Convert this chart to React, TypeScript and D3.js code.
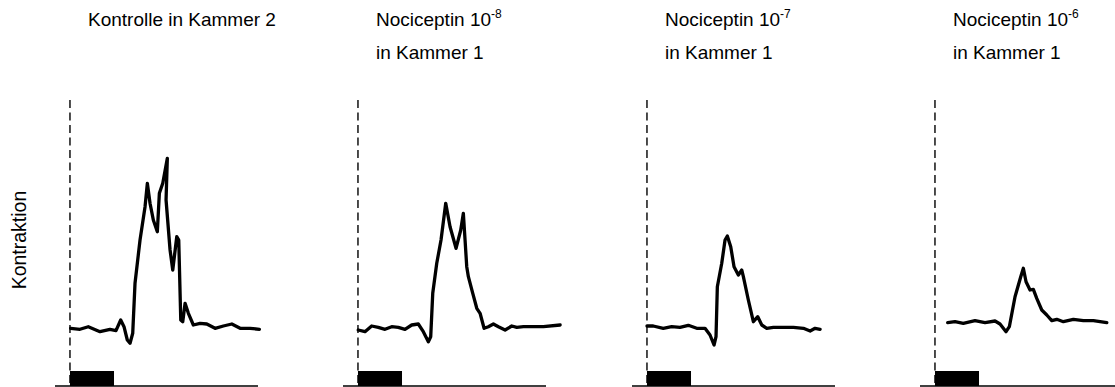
import React from "react";
import * as d3 from "d3";

// time (s) relative to stimulus onset, contraction (arbitrary units)
const control: [number, number][] = [
  [0.16, 28.85], [2.27, 28.35], [4.16, 29.65], [6.82, 27.15], [9.09, 28.35], [10.45, 27.65],
  [11.52, 33], [12.27, 29.65], [13.02, 23], [13.64, 21.35], [14.25, 26.35], [14.77, 51.35],
  [15.91, 73], [17.05, 89.65], [17.57, 101.35], [18.18, 91.35], [18.93, 83], [19.84, 77.15],
  [20.3, 96.35], [21.07, 101.35], [22.11, 113.85], [21.82, 93], [22.73, 68], [23.34, 58],
  [24.25, 74.65], [24.7, 73], [25.16, 33], [25.61, 32.15], [26.14, 41.35], [26.89, 36.35],
  [28.02, 30.5], [29.55, 31.35], [31.07, 31], [32.95, 28.85], [34.84, 30], [36.75, 31],
  [38.64, 28.85], [40.91, 28.85], [43.02, 28.35],
];
const noci8: [number, number][] = [
  [0.07, 28], [1.59, 27.15], [3.11, 30], [4.61, 29.35], [6.14, 28.35], [7.66, 29.65],
  [9.16, 29.35], [10.68, 28.35], [12.2, 30.5], [13.7, 31], [14.84, 27.15], [15.98, 22.15],
  [16.52, 24.65], [16.98, 46.35], [17.89, 61.35], [18.86, 73], [19.93, 91.35], [20.91, 79.65],
  [22.27, 68.85], [23.34, 78], [23.93, 86.35], [24.32, 73], [24.7, 59.65], [25.07, 54.65],
  [26.07, 46.35], [26.98, 38.85], [27.73, 36.35], [28.64, 28.85], [29.61, 29.65], [30.75, 31],
  [31.89, 29.65], [33.41, 28], [34.93, 30], [36.07, 29.35], [37.57, 29.65], [39.84, 29.65],
  [42.11, 29.65], [45.91, 30.5],
];
const noci7: [number, number][] = [
  [0, 30], [1.43, 30], [3.7, 28.85], [5.61, 29.65], [7.5, 29.35], [9.39, 30.35], [11.3, 28.85],
  [13.18, 28.85], [14.32, 25.5], [15.23, 20.5], [15.68, 24.65], [15.98, 49.65], [16.98, 61.35],
  [17.73, 73], [18.25, 75], [19.02, 69.65], [19.77, 59.65], [20.75, 55.5], [21.52, 58],
  [21.89, 54.65], [23.02, 43], [24.16, 32.15], [25.16, 34.65], [26.07, 30.5], [27.2, 28.85],
  [28.7, 29.35], [30.98, 29.35], [33.25, 29.35], [35.52, 28.85], [37.05, 27.5], [38.18, 28.85],
  [39.32, 28.35],
];
const noci6: [number, number][] = [
  [2.89, 31.65], [4.55, 32.15], [6.43, 31.35], [9.09, 32.65], [11.36, 31.65], [13.64, 32.5],
  [14.77, 31], [16.14, 27.15], [16.89, 29.65], [18.18, 44.65], [19.48, 54.65], [20.07, 58.85],
  [20.68, 52.15], [21.59, 48], [22.34, 48.35], [23.11, 43.85], [24.25, 38], [25.39, 35.5],
  [26.52, 32.65], [27.66, 33.35], [29.16, 32.15], [31.43, 33.35], [33.7, 32.65], [35.98, 32.65],
  [37.5, 32.15], [39.02, 31.65],
];

const titleLine1 = ["Kontrolle in Kammer 2", "Nociceptin 10", "Nociceptin 10", "Nociceptin 10"];
const titleSup = ["", "-8", "-7", "-6"];
const titleLine2 = ["", "in Kammer 1", "in Kammer 1", "in Kammer 1"];
const series = [control, noci8, noci7, noci6];
const stimulus: [number, number] = [0, 10];
const timeDomain: [number, number] = [-3.4, 42.7];
const yLabel = "Kontraktion";

const W = 1115;
const H = 387;
const panelStarts = [55, 343, 632, 920];
const panelWidth = 203;

export default function App() {
  const y = d3.scaleLinear().domain([0, 143]).range([386, 100]);
  const font = "'Liberation Sans', Arial, Helvetica, sans-serif";
  return (
    <svg
      width={W}
      height={H}
      style={{ position: "absolute", left: 0, top: 0, display: "block", background: "#fff" }}
      fontFamily={font}
    >
      <text
        transform={`translate(26,240) rotate(-90)`}
        textAnchor="middle"
        fontSize={19.5}
        fill="#000"
      >
        {yLabel}
      </text>
      {series.map((data, i) => {
        const x = d3
          .scaleLinear()
          .domain(timeDomain)
          .range([panelStarts[i], panelStarts[i] + panelWidth]);
        const line = d3
          .line<[number, number]>()
          .x((d) => x(d[0]))
          .y((d) => y(d[1]));
        const x0 = x(0);
        return (
          <g key={i}>
            <text x={x0 + 18} y={25.7} fontSize={19} fill="#000">
              {titleLine1[i]}
              {titleSup[i] && (
                <tspan fontSize={12} dy={-8}>
                  {titleSup[i]}
                </tspan>
              )}
            </text>
            {titleLine2[i] && (
              <text x={x0 + 18} y={59.3} fontSize={19} fill="#000">
                {titleLine2[i]}
              </text>
            )}
            <line
              x1={x0}
              x2={x0}
              y1={y(143)}
              y2={y(0)}
              stroke="#000"
              strokeWidth={1.4}
              strokeDasharray="8,4.5"
            />
            <rect
              x={x(stimulus[0])}
              width={x(stimulus[1]) - x(stimulus[0])}
              y={y(7.5)}
              height={y(0) - y(7.5)}
              fill="#000"
            />
            <line
              x1={x(timeDomain[0])}
              x2={x(timeDomain[1])}
              y1={y(0)}
              y2={y(0)}
              stroke="#000"
              strokeWidth={1.6}
            />
            <path
              d={line(data) || ""}
              fill="none"
              stroke="#000"
              strokeWidth={3.3}
              strokeLinejoin="round"
              strokeLinecap="round"
            />
          </g>
        );
      })}
    </svg>
  );
}
